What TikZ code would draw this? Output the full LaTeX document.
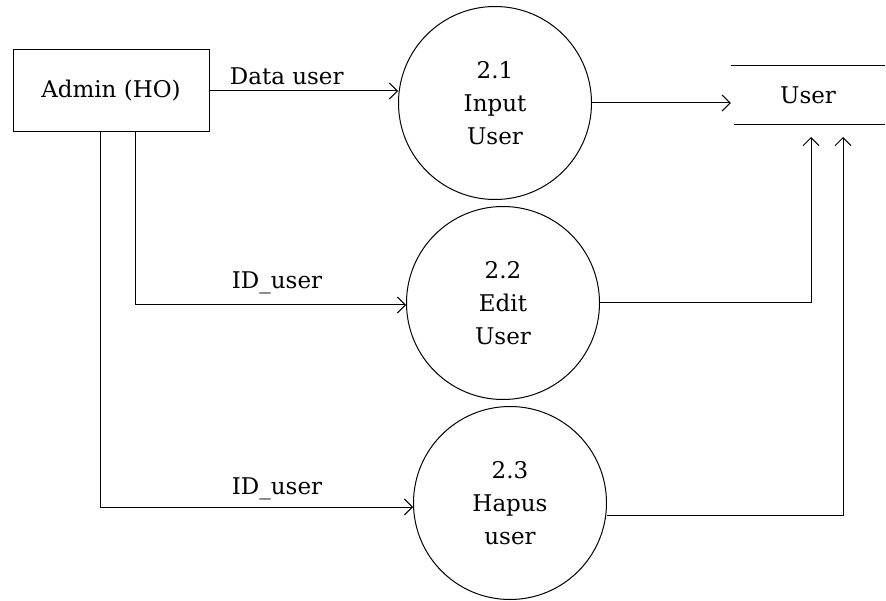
\documentclass[tikz,border=0pt]{standalone}
\usepackage{fontspec}
\setmainfont{DejaVu Serif}
\usetikzlibrary{positioning,arrows,arrows.meta}

\tikzset{
  proc/.style={draw, circle, minimum size=193pt, inner sep=0pt, align=center, line width=1pt},
  flow/.style={line width=1pt, -{Straight Barb[length=8pt,width=16pt,line width=1pt]}},
  link/.style={line width=1pt}
}

\begin{document}
\begin{tikzpicture}[x=1pt, y=-1pt, font=\fontsize{23}{33}\selectfont]
        \useasboundingbox (0,0) rectangle (886,601);
        \node[draw, line width=1pt, minimum width=196pt, minimum height=82pt] (admin) at (111,91) {Admin (HO)};
        \node[proc] (p1) at (495,103) {2.1\\Input\\User};
        \node[proc] (p2) at (503,303) {2.2\\Edit\\User};
        \node[proc] (p3) at (510,503) {2.3\\Hapus\\user};
        \node[minimum width=154pt, minimum height=58pt] (store) at (808,95) {User};
        \draw[link] (store.north west) -- (store.north east);
        \draw[link] ([xshift=3pt]store.south west) -- (store.south east);
        \coordinate (in2) at (811,137); \coordinate (in3) at (843,137);
        % flows from admin
        \draw[flow] (admin.east) -- (admin.east -| p1.west) node[pos=0.41, above=2pt] (lbl1) {Data user};
        \draw[flow] ([xshift=24pt]admin.south) |- ([yshift=-2pt]p2.west);
        \node (lbl2) at (277,283) {ID\_user};
        \draw[flow] ([xshift=-11pt]admin.south) |- ([yshift=-4pt]p3.west);
        \node (lbl3) at (277,489) {ID\_user};
        % flows to store
        \draw[flow] (p1.east) -- (p1.east -| store.west);
        \draw[flow] (p2.east) -| (in2);
        \draw[flow] ([yshift=-12pt]p3.east) -| (in3);
      \end{tikzpicture}
\end{document}
